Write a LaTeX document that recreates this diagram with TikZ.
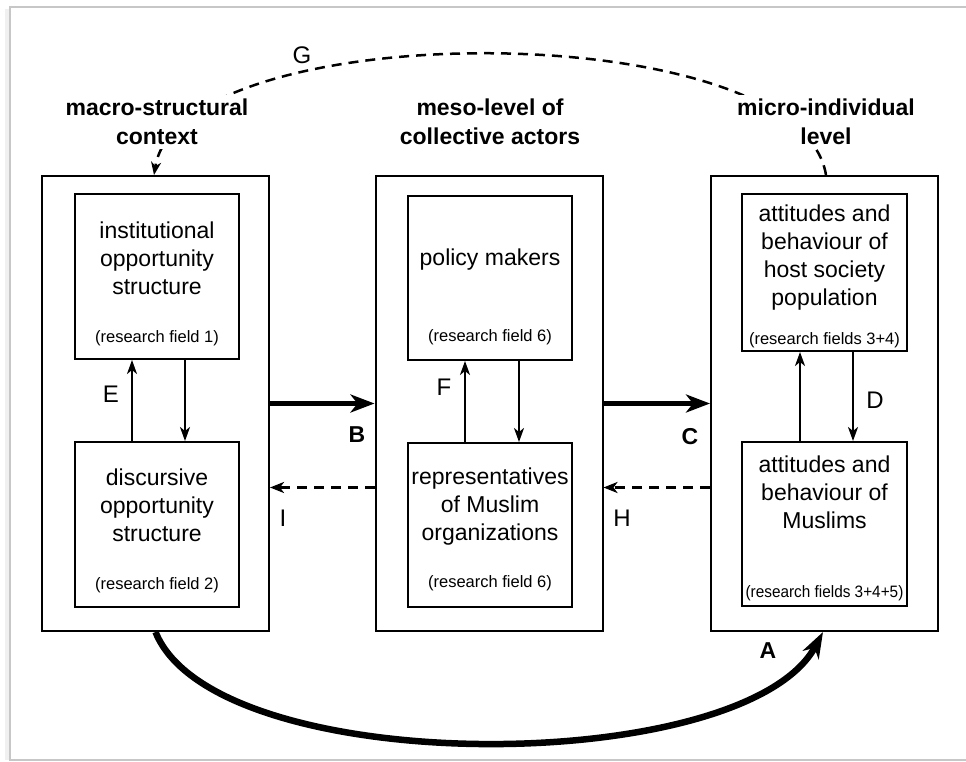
\documentclass[tikz,border=0pt]{standalone}
\usepackage{fontspec}
\setmainfont{Liberation Sans}
\usetikzlibrary{arrows.meta}
\tikzset{
 outbox/.style={draw, line width=2pt, minimum width=227pt, minimum height=455pt, inner sep=0pt},
 inbox/.style={draw, line width=2pt, inner sep=0pt},
 maintxt/.style={align=center, font=\fontsize{23}{28}\selectfont, inner sep=0pt},
 smalltxt/.style={font=\fontsize{16.5}{19}\selectfont, inner sep=0pt},
 headtxt/.style={align=center, font=\bfseries\fontsize{23}{29}\selectfont, fill=white, inner sep=4pt},
 lettr/.style={font=\fontsize{24}{28}\selectfont, inner sep=0pt},
 blettr/.style={font=\bfseries\fontsize{23}{27}\selectfont, inner sep=0pt},
 thinarr/.style={line width=2pt, -{Stealth[length=14pt,width=10pt,inset=4pt]}},
 thickarr/.style={line width=5pt, -{Stealth[length=24pt,width=18pt,inset=7pt]}},
 dasharr/.style={line width=2.5pt, dash pattern=on 10pt off 7pt, -{Stealth[length=14pt,width=11pt,inset=4pt]}},
}
\begin{document}
\begin{tikzpicture}[x=1pt,y=-1pt]
\useasboundingbox (0,0) rectangle (966,762);
\fill[white] (0,0) rectangle (966,762);
\draw[black!6, line width=4pt] (7,9) -- (7,760);
\draw[black!22, line width=1.2pt] (966,7) -- (10,7) -- (10,760) -- (966,760);

% outer boxes
\node[outbox] (lout) at (155.5,403.5) {};
\node[outbox] (mout) at (489,403.5) {};
\node[outbox] (rout) at (824.5,403.5) {};

% inner boxes
\node[inbox, minimum width=164pt, minimum height=165pt] (ltop) at (157,276.5) {};
\node[inbox, minimum width=164pt, minimum height=165pt] (lbot) at (157,524.5) {};
\node[inbox, minimum width=164pt, minimum height=164pt] (mtop) at (490,278) {};
\node[inbox, minimum width=164pt, minimum height=164pt] (mbot) at (490,525) {};
\node[inbox, minimum width=165pt, minimum height=157pt] (rtop) at (824.5,272.5) {};
\node[inbox, minimum width=165pt, minimum height=164pt] (rbot) at (824.5,524) {};

% inner texts
\node[maintxt] (ltopt) at (157,258) {institutional\\opportunity\\structure};
\node[smalltxt] (ltopr) at (157,338) {(research field 1)};
\node[maintxt] (lbott) at (157,505) {discursive\\opportunity\\structure};
\node[smalltxt] (lbotr) at (157,585) {(research field 2)};
\node[maintxt] (mtopt) at (490,260) {policy makers};
\node[smalltxt] (mtopr) at (490,337) {(research field 6)};
\node[maintxt] (mbott) at (490,507) {representatives\\of Muslim\\organizations};
\node[smalltxt] (mbotr) at (490,583) {(research field 6)};
\node[maintxt] (rtopt) at (824.5,258) {attitudes and\\behaviour of\\host society\\population};
\node[smalltxt] (rtopr) at (824.5,340) {(research fields 3+4)};
\node[maintxt] (rbott) at (824.5,492) {attitudes and\\behaviour of\\Muslims};
\node[smalltxt] (rbotr) at (824.5,593) {\scalebox{0.93}[1]{(research fields 3+4+5)}};

% vertical arrows
\draw[thinarr] ([xshift=-25pt]lbot.north) -- ([xshift=-25pt]ltop.south);
\draw[thinarr] ([xshift=28pt]ltop.south) -- ([xshift=28pt]lbot.north);
\draw[thinarr] ([xshift=-25pt]mbot.north) -- ([xshift=-25pt]mtop.south);
\draw[thinarr] ([xshift=29pt]mtop.south) -- ([xshift=29pt]mbot.north);
\draw[thinarr] ([xshift=-24.5pt]rbot.north) -- ([xshift=-24.5pt]rtop.south);
\draw[thinarr] ([xshift=28.5pt]rtop.south) -- ([xshift=28.5pt]rbot.north);

% horizontal arrows
\draw[thickarr] (lout.east) -- (mout.west);
\draw[thickarr] (mout.east) -- (rout.west);
\draw[dasharr] ([yshift=-84pt]mout.west) -- ([yshift=-84pt]lout.east);
\draw[dasharr] ([yshift=-84pt]rout.west) -- ([yshift=-84pt]mout.east);

% G curve
\draw[line width=2.5pt, dash pattern=on 10pt off 7pt, -{Stealth[length=13pt,width=10pt,inset=4pt]}]
  ([xshift=1.5pt]rout.north) .. controls (800,14) and (180,14) .. ([xshift=-1.5pt]lout.north);

% headers
\node[headtxt] (hmacro) at (157,122) {macro-structural\\context};
\node[headtxt] (hmeso) at (490,122) {meso-level of\\collective actors};
\node[headtxt] (hmicro) at (826,122) {micro-individual\\level};

% A curve
\draw[line width=6.5pt, -{Stealth[length=26pt,width=18pt,inset=8pt]}]
  (lout.south) .. controls (215,780) and (745,778) .. ([xshift=-1.5pt]rout.south);

% letter labels
\node[lettr] (labG) at (302,55) {G};
\node[lettr] (labE) at (111,394) {E};
\node[lettr] (labF) at (444,387) {F};
\node[lettr] (labD) at (875,400) {D};
\node[blettr] (labB) at (357,435) {B};
\node[blettr] (labC) at (690,437) {C};
\node[blettr] (labA) at (768,651) {A};
\node[lettr] (labI) at (283,518) {I};
\node[lettr] (labH) at (622,518) {H};
\end{tikzpicture}
\end{document}
